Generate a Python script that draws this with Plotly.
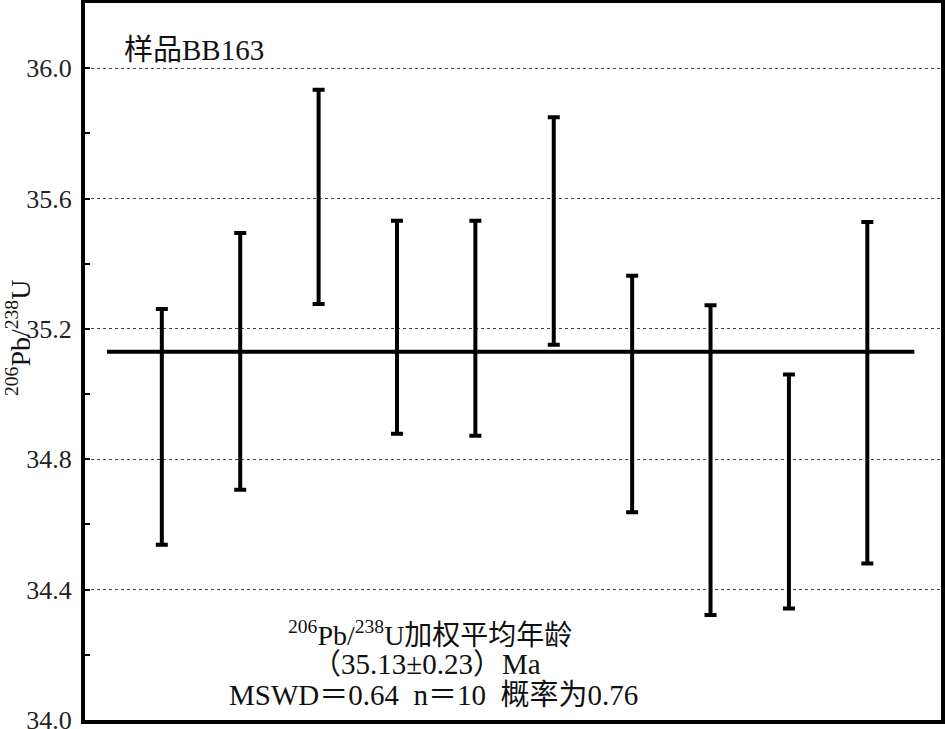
import plotly.graph_objects as go

# Data
analysis = [1, 2, 3, 4, 5, 6, 7, 8, 9, 10]
age = [34.899, 35.100, 35.605, 35.205, 35.202, 35.500, 35.000, 34.797, 34.701, 35.004]
err = [0.362, 0.394, 0.329, 0.327, 0.330, 0.349, 0.363, 0.475, 0.359, 0.524]
mean_age = 35.13
mean_x = [0.30, 10.60]
y_tickvals = [34.0, 34.4, 34.8, 35.2, 35.6, 36.0]
y_ticktext = ["34.0", "34.4", "34.8", "35.2", "35.6", "36.0"]

SERIF = "Liberation Serif"
MIXED = "Liberation Serif, Noto Sans CJK SC"

fig = go.Figure()

fig.add_trace(go.Scatter(
    x=mean_x, y=[mean_age, mean_age], mode="lines",
    line=dict(color="black", width=4), hoverinfo="skip", showlegend=False,
))

fig.add_trace(go.Scatter(
    x=analysis, y=age, mode="markers",
    marker=dict(size=1, color="rgba(0,0,0,0)"),
    error_y=dict(type="data", array=err, symmetric=True, color="black",
                 thickness=4, width=6),
    showlegend=False,
))

fig.update_xaxes(
    range=[0.02, 10.94], showticklabels=False, ticks="", showgrid=False,
    zeroline=False, showline=True, linewidth=4, linecolor="black", mirror=True,
    automargin=False,
)
fig.update_yaxes(
    range=[33.9995, 36.2], tickvals=y_tickvals, ticktext=y_ticktext,
    ticks="inside", ticklen=5, tickwidth=2, tickcolor="black",
    minor=dict(ticks="inside", ticklen=5, tickwidth=2, tickcolor="black",
               dtick=0.2, tick0=34.0, showgrid=False),
    showgrid=True, gridcolor="#444", gridwidth=1, griddash="dot",
    zeroline=False, showline=True, linewidth=4, linecolor="black", mirror=True,
    tickfont=dict(family=SERIF, size=26, color="#222"), ticklabelstandoff=4,
    ticklabeloverflow="allow", automargin=False,
)

annots = [
    dict(text="样品BB163", x=122, y=50, xanchor="left", size=29),
    dict(text="<sup>206</sup>Pb/<sup>238</sup>U加权平均年龄", x=430, y=633, xanchor="center", size=28),
    dict(text="（35.13±0.23）Ma", x=426, y=664, xanchor="center", size=29),
    dict(text="MSWD＝0.64  n＝10  概率为0.76", x=433, y=695, xanchor="center", size=29),
]
for a in annots:
    fig.add_annotation(
        text=a["text"], xref="paper", yref="paper",
        x=(a["x"] - 85) / 856, y=1 - (a["y"] - 3) / 717,
        xanchor=a["xanchor"], yanchor="middle", showarrow=False,
        font=dict(family=MIXED, size=a["size"], color="#111"),
    )

fig.add_annotation(
    text="<sup>206</sup>Pb/<sup>238</sup>U", textangle=-90,
    xref="paper", yref="paper", x=(18 - 85) / 856, y=1 - (338 - 3) / 717,
    xanchor="center", yanchor="middle", showarrow=False,
    font=dict(family=SERIF, size=28, color="#111"),
)

fig.update_layout(
    width=945, height=729, margin=dict(l=85, r=4, t=3, b=9, autoexpand=False),
    plot_bgcolor="white", paper_bgcolor="white",
)

fig.write_html(
    "out.html",
    config={"displayModeBar": False},
    post_script="document.body.style.margin='0';document.body.style.overflow='hidden';",
)
